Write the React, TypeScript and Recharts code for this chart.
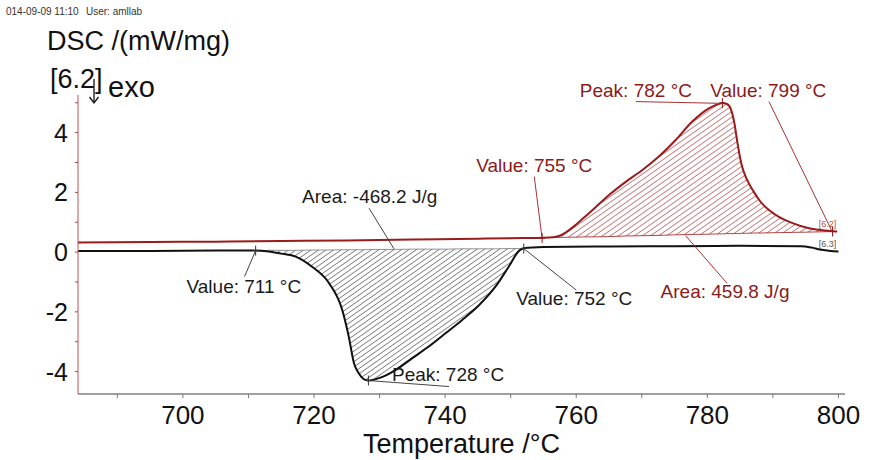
import React from "react"
import { ComposedChart, Line, Area, XAxis, YAxis, ReferenceLine, ReferenceDot, Label } from "recharts"

// red trace (exo, [6.2])
const redTemps = [684, 695, 705, 715, 725, 735, 745, 752, 755, 756.5, 757.6, 758.8, 759.9, 761.2, 762.5, 765.0, 767.6, 770.1, 772.6, 775.2, 777.7, 780.3, 781.5, 782.3, 783.0, 783.6, 784.1, 784.6, 785.2, 786.0, 787.0, 788.0, 790.4, 793.0, 795.5, 797.5, 799.8]
const redDsc = [0.32, 0.34, 0.35, 0.37, 0.39, 0.42, 0.45, 0.47, 0.48, 0.5, 0.56, 0.72, 0.91, 1.16, 1.41, 1.91, 2.36, 2.75, 3.2, 3.76, 4.37, 4.82, 4.94, 4.99, 4.96, 4.78, 4.35, 3.65, 2.95, 2.45, 2.05, 1.72, 1.25, 0.97, 0.8, 0.73, 0.69]
// baseline under the red peak (null = outside the integrated area)
const redBase = [null, null, null, null, null, null, null, null, null, 0.49, 0.49, 0.5, 0.5, 0.51, 0.51, 0.52, 0.54, 0.55, 0.56, 0.58, 0.59, 0.6, 0.61, 0.61, 0.62, 0.62, 0.62, 0.62, 0.63, 0.63, 0.64, 0.64, 0.65, 0.66, 0.67, 0.68, 0.69]

// black trace ([6.3])
const blackTemps = [684, 695, 705, 711, 713.1, 715.0, 717.2, 719.7, 722.3, 724.3, 725.3, 726.1, 726.8, 727.5, 728.3, 729.9, 732.5, 735.0, 737.5, 740.1, 742.6, 745.2, 747.7, 749.7, 751.3, 752.0, 755, 765, 775, 785, 794.3, 796.0, 797.4, 798.8, 800.0]
const blackDsc = [0.04, 0.04, 0.05, 0.05, 0.02, -0.05, -0.15, -0.49, -1.04, -1.93, -2.83, -3.72, -4.05, -4.24, -4.3, -4.22, -3.94, -3.55, -3.16, -2.71, -2.27, -1.77, -1.15, -0.49, 0.05, 0.13, 0.17, 0.19, 0.2, 0.21, 0.2, 0.15, 0.08, 0.04, 0.02]
const blackBase = [null, null, null, 0.05, 0.06, 0.06, 0.06, 0.07, 0.07, 0.08, 0.08, 0.08, 0.08, 0.08, 0.09, 0.09, 0.09, 0.1, 0.1, 0.1, 0.11, 0.11, 0.11, 0.12, 0.12, 0.13, null, null, null, null, null, null, null, null, null]

const xTicks = [690, 700, 710, 720, 730, 740, 750, 760, 770, 780, 790, 800]
const yTicks = [-4, -3, -2, -1, 0, 1, 2, 3, 4, 5]

// annotation texts: [text, temperature, dsc, anchor, colour]
const notes: [string, number, number, string, string][] = [
  ["Value: 711 °C", 709.3, -1.38, "middle", "#1a1a1a"],
  ["Peak: 728 °C", 731.9, -4.33, "start", "#1a1a1a"],
  ["Value: 752 °C", 759.7, -1.77, "middle", "#1a1a1a"],
  ["Area: -468.2 J/g", 728.5, 1.64, "middle", "#1a1a1a"],
  ["Value: 755 °C", 753.6, 2.67, "middle", "#8b1a1a"],
  ["Peak: 782 °C", 769.1, 5.2, "middle", "#8b1a1a"],
  ["Value: 799 °C", 789.3, 5.2, "middle", "#8b1a1a"],
  ["Area: 459.8 J/g", 782.7, -1.54, "middle", "#8b1a1a"],
]

// leader lines: [t1, v1, t2, v2, colour]
const leaders: [number, number, number, number, string][] = [
  [711.1, 0.05, 709.4, -0.82, "#444"],
  [728.3, -4.3, 740.6, -4.5, "#444"],
  [752.0, 0.12, 760.0, -1.27, "#444"],
  [728.4, 1.47, 732.2, 0.11, "#444"],
  [753.6, 2.53, 754.8, 0.45, "#a83232"],
  [769.1, 5.04, 782.3, 4.98, "#a83232"],
  [789.4, 5.04, 799.1, 0.66, "#a83232"],
  [776.7, 0.55, 783.0, -1.04, "#a83232"],
]

// evaluation markers: [t, v, colour]
const marks: [number, number, string][] = [
  [711.1, 0.05, "#333"],
  [728.3, -4.3, "#333"],
  [752.0, 0.12, "#333"],
  [754.8, 0.47, "#8b1a1a"],
  [782.3, 4.99, "#8b1a1a"],
  [799.1, 0.69, "#8b1a1a"],
]

const FONT = "Liberation Sans, Arial, sans-serif"

const redData = redTemps.map((t, i) => ({ t, v: redDsc[i] }))
const blackData = blackTemps.map((t, i) => ({ t, v: blackDsc[i] }))
const redArea = redTemps
  .map((t, i) => ({ t, range: redBase[i] == null ? null : [redBase[i], redDsc[i]] }))
  .filter((d) => d.range != null)
const blackArea = blackTemps
  .map((t, i) => ({ t, range: blackBase[i] == null ? null : [blackDsc[i], blackBase[i]] }))
  .filter((d) => d.range != null)

const XTick = (props: any) => {
  const { x, y, payload } = props
  const v = payload.value
  return (
    <g>
      <line x1={x} y1={y} x2={x} y2={y + 4} stroke="#777" />
      {v % 20 === 0 && (
        <text x={x} y={y + 30} textAnchor="middle" fontSize={26} fontFamily={FONT} fill="#111">
          {v}
        </text>
      )}
    </g>
  )
}

const YTick = (props: any) => {
  const { x, y, payload } = props
  const v = payload.value
  return (
    <g>
      <line x1={x - 3} y1={y} x2={x} y2={y} stroke="#b04040" />
      {v % 2 === 0 && (
        <text x={x - 10} y={y + 9} textAnchor="end" fontSize={25} fontFamily={FONT} fill="#111">
          {v}
        </text>
      )}
    </g>
  )
}

const YTitle = () => (
  <g fontFamily={FONT} fill="#111">
    <text x={6} y={15} fontSize={10} fill="#333">014-09-09 11:10</text>
    <text x={86} y={15} fontSize={10} fill="#333">User: amllab</text>
    <text x={47} y={50} fontSize={27}>DSC /(mW/mg)</text>
    <text x={50} y={88} fontSize={27}>[6.2]</text>
    <text x={108} y={97} fontSize={29}>exo</text>
    <line x1={94} y1={79} x2={94} y2={103} stroke="#111" strokeWidth={1.3} />
    <polyline points="89.5,97 94,103 98.5,97" fill="none" stroke="#111" strokeWidth={1.3} />
  </g>
)

const XTitle = (props: any) => {
  const vb = props.viewBox
  return (
    <text x={vb.x + vb.width / 2} y={453} textAnchor="middle" fontSize={27} fontFamily={FONT} fill="#111">
      Temperature /°C
    </text>
  )
}

export default function App() {
  return (
    <div style={{ position: "absolute", left: 0, top: 0, width: 876, height: 460, background: "#fff" }}>
      <ComposedChart width={876} height={460} margin={{ top: 95, right: 31, bottom: 26, left: 28 }}>
        <defs>
          <pattern id="hatchRed" width="4.6" height="4.6" patternUnits="userSpaceOnUse" patternTransform="rotate(55)">
            <line x1="0" y1="0" x2="0" y2="4.6" stroke="#9a2020" strokeWidth="1.1" />
          </pattern>
          <pattern id="hatchBlack" width="4.3" height="4.3" patternUnits="userSpaceOnUse" patternTransform="rotate(55)">
            <line x1="0" y1="0" x2="0" y2="4.3" stroke="#1a1a1a" strokeWidth="1" />
          </pattern>
        </defs>
        <XAxis
          type="number"
          dataKey="t"
          domain={[684, 801]}
          ticks={xTicks}
          interval={0}
          allowDataOverflow
          tickSize={0}
          tickMargin={0}
          tickLine={false}
          tick={<XTick />}
          axisLine={{ stroke: "#808080", strokeWidth: 1.6 }}
          height={40}
          label={<Label content={<XTitle />} />}
        />
        <YAxis
          type="number"
          domain={[-4.75, 5.26]}
          ticks={yTicks}
          interval={0}
          allowDataOverflow
          tickSize={0}
          tickMargin={0}
          tickLine={false}
          tick={<YTick />}
          axisLine={{ stroke: "#c05050" }}
          width={50}
          label={<Label content={<YTitle />} />}
        />
        <Area
          data={blackArea}
          dataKey="range"
          type="monotone"
          fill="url(#hatchBlack)"
          fillOpacity={1}
          stroke="#777"
          strokeWidth={0.8}
          isAnimationActive={false}
          activeDot={false}
          dot={false}
        />
        <Area
          data={redArea}
          dataKey="range"
          type="monotone"
          fill="url(#hatchRed)"
          fillOpacity={1}
          stroke="#a83232"
          strokeWidth={0.9}
          isAnimationActive={false}
          activeDot={false}
          dot={false}
        />
        <Line data={blackData} dataKey="v" type="monotone" stroke="#111" strokeWidth={2} dot={false} activeDot={false} isAnimationActive={false} />
        <Line data={redData} dataKey="v" type="monotone" stroke="#9a1c1c" strokeWidth={2} dot={false} activeDot={false} isAnimationActive={false} />
        {leaders.map(([t1, v1, t2, v2, c], i) => (
          <ReferenceLine key={"l" + i} segment={[{ x: t1, y: v1 }, { x: t2, y: v2 }]} stroke={c} strokeWidth={1} />
        ))}
        {marks.map(([t, v, c], i) => (
          <ReferenceDot
            key={"m" + i}
            x={t}
            y={v}
            r={1}
            shape={(p: any) => (
              <g stroke={c} strokeWidth={1}>
                <line x1={p.cx} y1={p.cy - 5} x2={p.cx} y2={p.cy + 5} />
                <line x1={p.cx - 3} y1={p.cy} x2={p.cx + 3} y2={p.cy} />
              </g>
            )}
          />
        ))}
        {notes.map(([txt, t, v, anchor, c], i) => (
          <ReferenceDot
            key={"n" + i}
            x={t}
            y={v}
            r={1}
            shape={(p: any) => (
              <text x={p.cx} y={p.cy} textAnchor={anchor as any} fontSize={19} fontFamily={FONT} fill={c}>
                {txt}
              </text>
            )}
          />
        ))}
        <ReferenceDot
          x={798.35}
          y={0.84}
          r={1}
          shape={(p: any) => (
            <text x={p.cx} y={p.cy} textAnchor="middle" fontSize={9} fontFamily={FONT} fill="#b05050">[6.2]</text>
          )}
        />
        <ReferenceDot
          x={798.35}
          y={0.17}
          r={1}
          shape={(p: any) => (
            <text x={p.cx} y={p.cy} textAnchor="middle" fontSize={9} fontFamily={FONT} fill="#555">[6.3]</text>
          )}
        />
      </ComposedChart>
    </div>
  )
}
